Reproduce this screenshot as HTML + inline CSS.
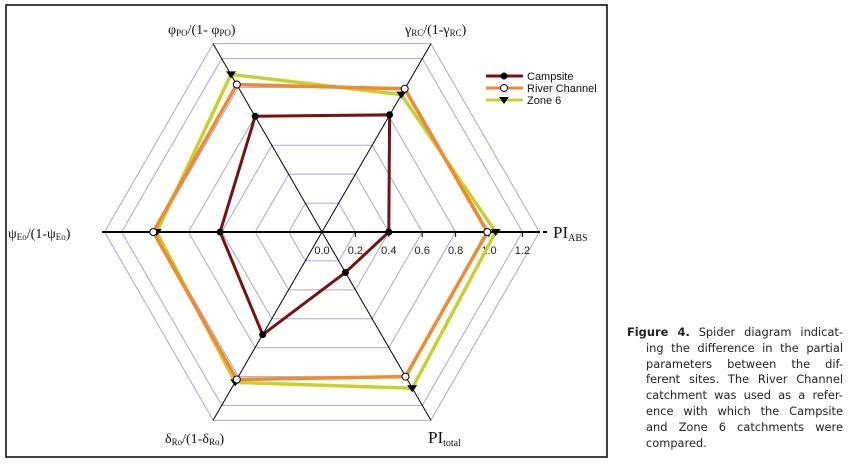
<!DOCTYPE html>
<html><head><meta charset="utf-8"><style>
body{margin:0;background:#fff;width:854px;height:474px;overflow:hidden;position:relative;font-family:"Liberation Sans",sans-serif}
.cap{position:absolute;left:627px;top:325px;width:216px;font-family:"DejaVu Sans",sans-serif;font-size:11.4px;line-height:15.8px;color:#222}
.cap div{text-align:justify;text-align-last:justify;padding-left:19px;white-space:nowrap}
.cap div.f{padding-left:0}
.cap div.l{text-align-last:left}
</style></head><body>
<svg width="854" height="474" style="position:absolute;left:0;top:0">
<rect x="6" y="5" width="601" height="452" fill="none" stroke="#000" stroke-width="1.5"/>
<g transform="translate(322,232)">
<g fill="none" stroke="#a8a8d0" stroke-width="1">
<polygon points="1,0 0.5,-0.866 -0.5,-0.866 -1,0 -0.5,0.866 0.5,0.866" transform="scale(33.4)" vector-effect="non-scaling-stroke"/>
<polygon points="1,0 0.5,-0.866 -0.5,-0.866 -1,0 -0.5,0.866 0.5,0.866" transform="scale(66.8)" vector-effect="non-scaling-stroke"/>
<polygon points="1,0 0.5,-0.866 -0.5,-0.866 -1,0 -0.5,0.866 0.5,0.866" transform="scale(100.2)" vector-effect="non-scaling-stroke"/>
<polygon points="1,0 0.5,-0.866 -0.5,-0.866 -1,0 -0.5,0.866 0.5,0.866" transform="scale(133.6)" vector-effect="non-scaling-stroke"/>
<polygon points="1,0 0.5,-0.866 -0.5,-0.866 -1,0 -0.5,0.866 0.5,0.866" transform="scale(167)" vector-effect="non-scaling-stroke"/>
<polygon points="1,0 0.5,-0.866 -0.5,-0.866 -1,0 -0.5,0.866 0.5,0.866" transform="scale(200.4)" vector-effect="non-scaling-stroke"/>
<polygon points="1,0 0.5,-0.866 -0.5,-0.866 -1,0 -0.5,0.866 0.5,0.866" transform="scale(217.5)" vector-effect="non-scaling-stroke"/>
</g>
<g stroke="#000" stroke-width="1">
<line x1="-109" y1="-188.4" x2="109" y2="188.4"/>
<line x1="109" y1="-188.4" x2="-109" y2="188.4"/>
</g>
<line x1="-220" y1="0" x2="218" y2="0" stroke="#000" stroke-width="2"/>
<line x1="221" y1="0" x2="225" y2="0" stroke="#000" stroke-width="2"/>
<g stroke="#000" stroke-width="1">
<line x1="33.4" y1="0" x2="33.4" y2="5"/><line x1="66.8" y1="0" x2="66.8" y2="5"/><line x1="100.2" y1="0" x2="100.2" y2="5"/><line x1="133.6" y1="0" x2="133.6" y2="5"/><line x1="167" y1="0" x2="167" y2="5"/><line x1="200.4" y1="0" x2="200.4" y2="5"/>
</g>
<g font-family="Liberation Sans,sans-serif" font-size="11" fill="#222" text-anchor="middle">
<text x="0" y="22">0.0</text><text x="33.4" y="22">0.2</text><text x="66.8" y="22">0.4</text><text x="100.2" y="22">0.6</text><text x="133.6" y="22">0.8</text><text x="167" y="22">1.0</text><text x="200.4" y="22">1.2</text>
</g>
<polygon points="173.7,0 79.3,-137.4 -91,-157.6 -165.3,0 -86.8,150.4 90.2,156.2" fill="none" stroke="#c8d030" stroke-width="3.5"/>
<polygon points="165.3,0 82.7,-143.2 -85.2,-147.5 -168.7,0 -85.2,147.5 83.5,144.6" fill="none" stroke="#f08a30" stroke-width="3.5"/>
<polygon points="66.8,0 67.6,-117.2 -66.8,-115.7 -101.9,0 -59.3,102.7 23.4,40.5" fill="none" stroke="#7a1010" stroke-width="3"/>
<g fill="#000">
<path d="M168.7,-3 h10 l-5,7z"/><path d="M74.3,-140.4 h10 l-5,7z"/><path d="M-96,-160.6 h10 l-5,7z"/><path d="M-170.3,-3 h10 l-5,7z"/><path d="M-91.8,147.4 h10 l-5,7z"/><path d="M85.2,153.2 h10 l-5,7z"/>
</g>
<g fill="#fff" stroke="#000" stroke-width="1">
<circle cx="165.3" cy="0" r="3.5"/><circle cx="82.7" cy="-143.2" r="3.5"/><circle cx="-85.2" cy="-147.5" r="3.5"/><circle cx="-168.7" cy="0" r="3.5"/><circle cx="-85.2" cy="147.5" r="3.5"/><circle cx="83.5" cy="144.6" r="3.5"/>
</g>
<g fill="#000">
<circle cx="66.8" cy="0" r="3.5"/><circle cx="67.6" cy="-117.2" r="3.5"/><circle cx="-66.8" cy="-115.7" r="3.5"/><circle cx="-101.9" cy="0" r="3.5"/><circle cx="-59.3" cy="102.7" r="3.5"/><circle cx="23.4" cy="40.5" r="3.5"/>
</g>
</g>
<g font-family="Liberation Serif,serif" fill="#111">
<text x="168" y="34" font-size="14">φ<tspan font-size="9" dy="2">PO</tspan><tspan dy="-2">/(1- φ</tspan><tspan font-size="9" dy="2">PO</tspan><tspan dy="-2">)</tspan></text>
<text x="405" y="34" font-size="14">γ<tspan font-size="9" dy="2">RC</tspan><tspan dy="-2">/(1-γ</tspan><tspan font-size="9" dy="2">RC</tspan><tspan dy="-2">)</tspan></text>
<text x="553" y="238" font-size="17">PI<tspan font-size="10" dy="3">ABS</tspan></text>
<text x="8" y="238" font-size="14">ψ<tspan font-size="9" dy="2">Eo</tspan><tspan dy="-2">/(1-ψ</tspan><tspan font-size="9" dy="2">Eo</tspan><tspan dy="-2">)</tspan></text>
<text x="165" y="443" font-size="14">δ<tspan font-size="9" dy="2">Ro</tspan><tspan dy="-2">/(1-δ</tspan><tspan font-size="9" dy="2">Ro</tspan><tspan dy="-2">)</tspan></text>
<text x="428" y="443" font-size="17">PI<tspan font-size="10" dy="3">total</tspan></text>
</g>
<g font-family="Liberation Sans,sans-serif" font-size="11" fill="#111">
<line x1="486" y1="76" x2="523" y2="76" stroke="#7a1010" stroke-width="3"/><circle cx="504" cy="76" r="3.5" fill="#000"/>
<text x="527" y="80">Campsite</text>
<line x1="486" y1="88" x2="523" y2="88" stroke="#f08a30" stroke-width="3"/><circle cx="504" cy="88" r="3.5" fill="#fff" stroke="#000"/>
<text x="527" y="92">River Channel</text>
<line x1="486" y1="100" x2="523" y2="100" stroke="#c8d030" stroke-width="3"/><path d="M499,97 h10 l-5,7z" fill="#000"/>
<text x="527" y="104">Zone 6</text>
</g>
</svg>
<div class="cap">
<div class="f"><b>Figure 4.</b> Spider diagram indicat-</div>
<div>ing the difference in the partial</div>
<div>parameters between the dif-</div>
<div>ferent sites. The River Channel</div>
<div>catchment was used as a refer-</div>
<div>ence with which the Campsite</div>
<div>and Zone 6 catchments were</div>
<div class="l">compared.</div>
</div>
</body></html>
